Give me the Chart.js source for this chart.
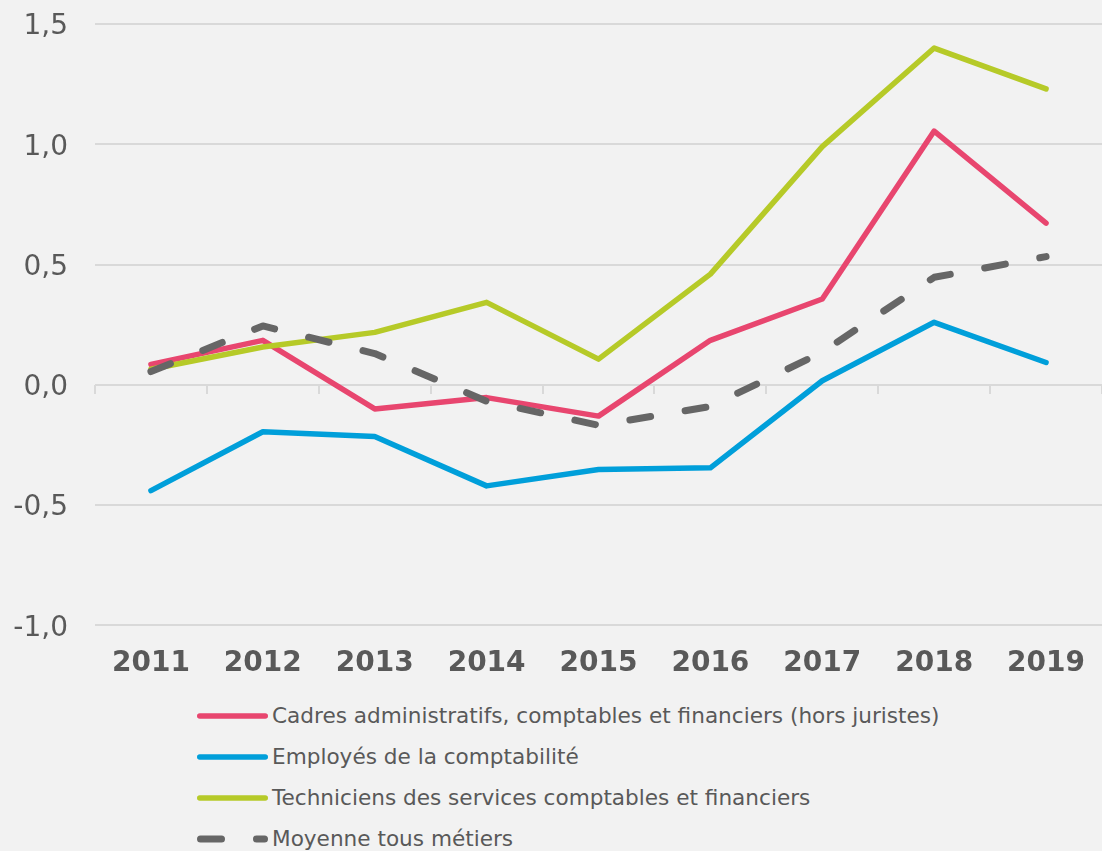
<!DOCTYPE html>
<html lang="fr">
<head>
<meta charset="utf-8">
<title>Évolution 2011-2019</title>
<script src="https://cdn.jsdelivr.net/npm/chart.js@4/dist/chart.umd.min.js"></script>
<style>
  html, body { margin: 0; padding: 0; background: #f2f2f2; }
  body { width: 1102px; height: 851px; overflow: hidden; font-family: "DejaVu Sans", Verdana, sans-serif; }
  #wrap { position: relative; width: 1102px; height: 695px; }
  #legend { position: absolute; left: 197px; top: 695px; }
  .legend-item { display: flex; align-items: center; height: 41px; color: #595959; font-size: 21.6px; }
  .legend-item svg { display: block; margin-right: 4px; }
</style>
</head>
<body>
<div id="wrap"><canvas id="chart"></canvas></div>
<div id="legend"></div>
<script>
// Data.
const years = ["2011", "2012", "2013", "2014", "2015", "2016", "2017", "2018", "2019"];
const cadres = [0.085, 0.185, -0.10, -0.053, -0.13, 0.185, 0.357, 1.055, 0.672];
const employes = [-0.44, -0.195, -0.215, -0.42, -0.352, -0.345, 0.017, 0.26, 0.093];
const techniciens = [0.065, 0.157, 0.218, 0.343, 0.107, 0.46, 0.99, 1.40, 1.23];
const moyenne = [0.055, 0.245, 0.13, -0.068, -0.168, -0.09, 0.136, 0.447, 0.533];
const yTicks = [-1.0, -0.5, 0.0, 0.5, 1.0, 1.5];

const seriesNames = [
  "Cadres administratifs, comptables et financiers (hors juristes)",
  "Employés de la comptabilité",
  "Techniciens des services comptables et financiers",
  "Moyenne tous métiers"
];

const RED = "#e8466f";
const BLUE = "#009fda";
const GREEN = "#b6ca28";
const GREY = "#666666";
const TEXT = "#595959";
const GRID = "#d9d9d9";
const FONT = "'DejaVu Sans', Verdana, sans-serif";

function line(label, data, color, order, extra) {
  return Object.assign({
    label,
    data,
    borderColor: color,
    backgroundColor: color,
    borderWidth: 5.5,
    borderCapStyle: "round",
    borderJoinStyle: "round",
    pointRadius: 0,
    tension: 0,
    order
  }, extra || {});
}

const datasets = [
  line(seriesNames[0], cadres, RED, 3),
  line(seriesNames[1], employes, BLUE, 2),
  line(seriesNames[2], techniciens, GREEN, 1),
  line(seriesNames[3], moyenne, GREY, 0, { borderWidth: 7, borderDash: [21, 35] })
];

new Chart(document.getElementById("chart"), {
  type: "line",
  data: { labels: years, datasets },
  options: {
    responsive: true,
    maintainAspectRatio: false,
    animation: false,
    layout: { padding: { top: 24, right: 0, bottom: 0, left: 0 } },
    plugins: { legend: { display: false }, tooltip: { enabled: false } },
    scales: {
      x: {
        type: "category",
        offset: true,
        grid: { display: false },
        border: { display: false },
        ticks: { color: TEXT, padding: 14, maxRotation: 0, font: { family: FONT, size: 28, weight: "bold" } }
      },
      // tick marks sitting on the zero line, between categories
      xz: {
        type: "category",
        position: { y: 0 },
        offset: true,
        grid: { display: true, drawOnChartArea: false, drawTicks: true, tickLength: 9, color: GRID, lineWidth: 2, offset: true },
        border: { display: false },
        ticks: { display: false }
      },
      y: {
        min: yTicks[0],
        max: yTicks[yTicks.length - 1],
        afterBuildTicks: (scale) => { scale.ticks = yTicks.map((v) => ({ value: v })); },
        afterFit: (scale) => { scale.width = 95; },
        // invisible tick marks give the gap between labels and plot
        grid: { color: GRID, lineWidth: 2, drawTicks: true, tickLength: 27, tickColor: "rgba(0,0,0,0)" },
        border: { display: false },
        ticks: {
          color: TEXT,
          padding: 0,
          labelOffset: 3,
          font: { family: FONT, size: 28 },
          callback: (v) => Number(v).toFixed(1).replace(".", ",")
        }
      }
    }
  }
});

// Vertical legend below the chart: line sample + label.
function renderLegend() {
  const box = document.getElementById("legend");
  datasets.forEach((ds) => {
    const item = document.createElement("div");
    item.className = "legend-item";
    const svgNS = "http://www.w3.org/2000/svg";
    const svg = document.createElementNS(svgNS, "svg");
    svg.setAttribute("width", "71");
    svg.setAttribute("height", "12");
    const l = document.createElementNS(svgNS, "line");
    const w = ds.borderWidth;
    l.setAttribute("x1", String(w / 2));
    l.setAttribute("x2", String(71 - w / 2));
    l.setAttribute("y1", "6");
    l.setAttribute("y2", "6");
    l.setAttribute("stroke", ds.borderColor);
    l.setAttribute("stroke-width", String(w));
    l.setAttribute("stroke-linecap", "round");
    if (ds.borderDash) l.setAttribute("stroke-dasharray", ds.borderDash.join(" "));
    svg.appendChild(l);
    const label = document.createElement("span");
    label.textContent = ds.label;
    item.appendChild(svg);
    item.appendChild(label);
    box.appendChild(item);
  });
}
renderLegend();
</script>
</body>
</html>
